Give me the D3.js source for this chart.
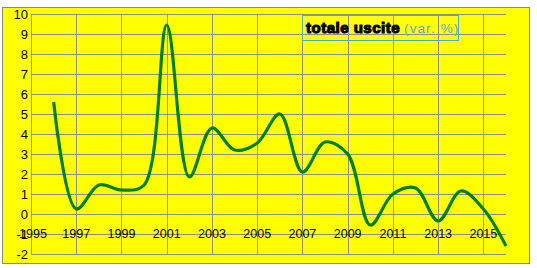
<!DOCTYPE html>
<html><head><meta charset="utf-8">
<script src="https://cdn.jsdelivr.net/npm/d3@7"></script>
<style>body{margin:0;background:#fff}svg{display:block}</style>
</head><body>
<script>
const years = [1996,1997,1998,1999,2000,2001,2002,2003,2004,2005,2006,2007,2008,2009,2010,2011,2012,2013,2014,2015,2016];
const values = [5.6,0.25,1.45,1.2,1.45,9.45,1.85,4.3,3.2,3.55,5.0,2.1,3.6,3.0,-0.55,1.0,1.3,-0.35,1.15,0.25,-1.6];
const xTicks = [1995,1997,1999,2001,2003,2005,2007,2009,2011,2013,2015];
const yTicks = [-2,-1,0,1,2,3,4,5,6,7,8,9,10];

const W=537,H=268;
const svg=d3.select("body").append("svg").attr("width",W).attr("height",H);
svg.append("rect").attr("x",2.5).attr("y",7.5).attr("width",527).attr("height",256)
  .attr("fill","#ffff00").attr("stroke","#888").attr("stroke-width",1);

const x=d3.scaleLinear().domain([1995,2016]).range([31,506]);
const y=d3.scaleLinear().domain([-2,10]).range([254,14]);
const font="'Liberation Sans', Arial, sans-serif";

const g=svg.append("g");
g.selectAll(".hg").data(yTicks).join("line")
  .attr("x1",x(1995)).attr("x2",x(2016)).attr("y1",d=>Math.round(y(d))+0.5).attr("y2",d=>Math.round(y(d))+0.5)
  .attr("stroke","#8c8c8c").attr("stroke-width",1);
g.selectAll(".vg").data(xTicks).join("line")
  .attr("x1",d=>Math.round(x(d))+0.5).attr("x2",d=>Math.round(x(d))+0.5).attr("y1",y(10)).attr("y2",y(-2))
  .attr("stroke","#8c8c8c").attr("stroke-width",1);

g.selectAll(".yl").data(yTicks).join("text")
  .attr("x",28).attr("y",d=>y(d)+4.5).attr("text-anchor","end")
  .attr("font-family",font).attr("font-size",13).attr("fill","#000").text(d=>d);
g.selectAll(".xl").data(xTicks).join("text")
  .attr("x",d=>x(d)+(d===1995?2:0)).attr("y",y(-1)+3.5).attr("text-anchor","middle")
  .attr("font-family",font).attr("font-size",12.5).attr("fill","#000").text(d=>d);

const line=d3.line().x((d,i)=>x(years[i])).y(d=>y(d)).curve(d3.curveCatmullRom.alpha(0.5));
svg.append("path").datum(values).attr("d",line).attr("fill","none")
  .attr("stroke","#008000").attr("stroke-width",3.2).attr("stroke-linejoin","round");

// title box
svg.append("rect").attr("x",302.5).attr("y",15.5).attr("width",156).attr("height",25)
  .attr("fill","none").attr("stroke","#4bacc6").attr("stroke-width",1);
const t=svg.append("text").attr("x",306).attr("y",33).attr("font-family",font);
t.append("tspan").attr("font-size",15).attr("font-weight","bold").attr("fill","#000")
  .attr("stroke","#000").attr("stroke-width",1.1).attr("letter-spacing",0.5).text("totale uscite");
t.append("tspan").attr("font-size",13.5).attr("fill","#5ea7dc").attr("dx",4).attr("letter-spacing",1.1).text("(var. %)");
</script>
</body></html>
